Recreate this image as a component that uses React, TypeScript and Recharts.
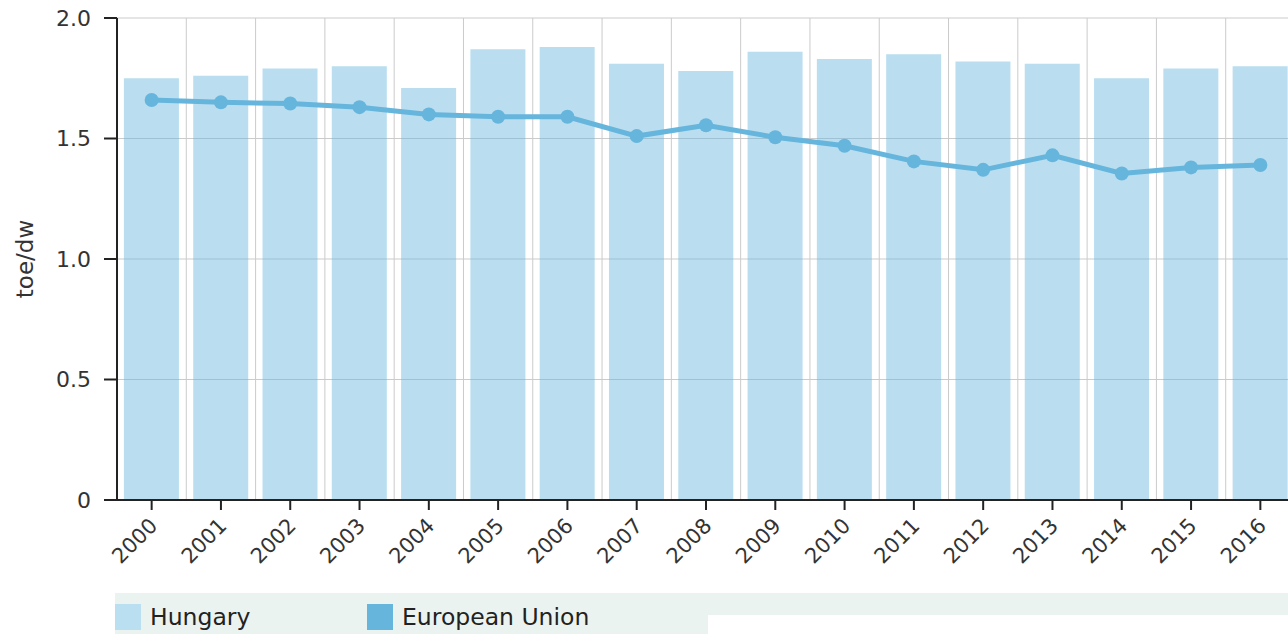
import React from "react";
import {
  ComposedChart,
  Bar,
  Line,
  XAxis,
  YAxis,
  CartesianGrid,
} from "recharts";

const years = ["2000", "2001", "2002", "2003", "2004", "2005", "2006", "2007", "2008", "2009", "2010", "2011", "2012", "2013", "2014", "2015", "2016"];
const hungary = [1.75, 1.76, 1.79, 1.8, 1.71, 1.87, 1.88, 1.81, 1.78, 1.86, 1.83, 1.85, 1.82, 1.81, 1.75, 1.79, 1.8];
const europeanUnion = [1.66, 1.65, 1.645, 1.63, 1.6, 1.59, 1.59, 1.51, 1.555, 1.505, 1.47, 1.405, 1.37, 1.43, 1.355, 1.38, 1.39];
const yTicks = [0, 0.5, 1, 1.5, 2];

const data = years.map((year, i) => ({
  year,
  hungary: hungary[i],
  eu: europeanUnion[i],
}));

const FONT = "'DejaVu Sans', Verdana, sans-serif";
const BAR_COLOR = "#6cb8df";
const LINE_COLOR = "#66b5dd";

function YearTick({ x, y, payload }: any) {
  return (
    <text
      transform={`translate(${x + 7},${y + 17}) rotate(-45)`}
      textAnchor="end"
      fill="#333"
      fontSize={21}
      fontFamily={FONT}
    >
      {payload.value}
    </text>
  );
}

function AxisTitle({ viewBox }: any) {
  const cx = viewBox.x + 25;
  const cy = viewBox.y + viewBox.height / 2;
  return (
    <text
      x={cx}
      y={cy}
      transform={`rotate(-90,${cx},${cy})`}
      textAnchor="middle"
      dominantBaseline="central"
      fill="#333"
      fontSize={23}
      fontFamily={FONT}
    >
      toe/dw
    </text>
  );
}

function LegendItem({ color, label, left }: { color: string; label: string; left: number }) {
  return (
    <div style={{ position: "absolute", left, top: 11, display: "flex", alignItems: "center" }}>
      <div style={{ width: 26, height: 26, background: color }} />
      <span style={{ marginLeft: 9, fontFamily: FONT, fontSize: 23.5, color: "#222", lineHeight: "26px" }}>
        {label}
      </span>
    </div>
  );
}

export default function App() {
  return (
    <div style={{ position: "absolute", left: 0, top: 0, width: 1288, height: 634, overflow: "hidden", background: "#fff" }}>
      <ComposedChart
        width={1300}
        height={634}
        data={data}
        margin={{ top: 18, right: 5, left: 0, bottom: 54 }}
        barCategoryGap="10%"
      >
        <CartesianGrid
          stroke="#cbcbcb"
          verticalCoordinatesGenerator={({ offset }: any) =>
            Array.from({ length: years.length + 1 }, (_, i) => offset.left + (i * offset.width) / years.length)
          }
        />
        <XAxis
          dataKey="year"
          height={80}
          interval={0}
          tickSize={10}
          tickMargin={0}
          tick={<YearTick />}
          axisLine={{ stroke: "#222", strokeWidth: 2 }}
          tickLine={{ stroke: "#222", strokeWidth: 2 }}
        />
        <YAxis
          width={117}
          domain={[0, 2]}
          ticks={yTicks}
          tickFormatter={(v: number) => (v === 0 ? "0" : v.toFixed(1))}
          tickSize={13}
          tickMargin={13}
          tick={{ fill: "#333", fontSize: 22, fontFamily: FONT }}
          axisLine={{ stroke: "#222", strokeWidth: 2 }}
          tickLine={{ stroke: "#222", strokeWidth: 2 }}
          label={<AxisTitle />}
        />
        <Bar dataKey="hungary" fill={BAR_COLOR} fillOpacity={0.47} isAnimationActive={false} />
        <Line
          dataKey="eu"
          stroke={LINE_COLOR}
          strokeWidth={5}
          dot={{ r: 7, fill: LINE_COLOR, stroke: "none" }}
          activeDot={false}
          isAnimationActive={false}
        />
      </ComposedChart>
      <div style={{ position: "absolute", left: 115, top: 593, width: 1173, height: 22, background: "#ebf3f0" }} />
      <div style={{ position: "absolute", left: 115, top: 593, width: 593, height: 41, background: "#ebf3f0" }}>
        <LegendItem color="#b9dff0" label="Hungary" left={0} />
        <LegendItem color="#66b5dd" label="European Union" left={252} />
      </div>
    </div>
  );
}
